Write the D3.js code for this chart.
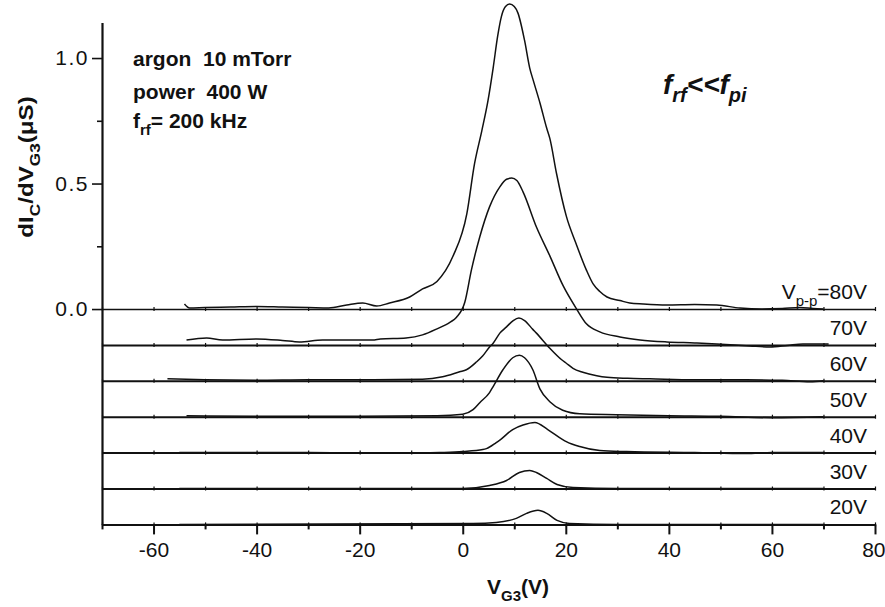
<!DOCTYPE html>
<html><head><meta charset="utf-8">
<script src="https://cdn.jsdelivr.net/npm/d3@7"></script>
<style>
html,body{margin:0;padding:0;background:#fff;}
svg{display:block;}
text{font-family:"Liberation Sans",Arial,Helvetica,sans-serif;fill:#111;}
</style></head>
<body>
<svg id="chart" width="885" height="607"></svg>
<script>
// ---- data (V_G3 in volts, dIc/dV in µS) ----
const seriesNames = ["80V","70V","60V","50V","40V","30V","20V"];
const offsets = [0, -0.143, -0.286, -0.429, -0.572, -0.715, -0.858];

const vpp80 = [[-54,0.02],[-53,0.004],[-50,0.006],[-45,0.008],[-40,0.01],[-35,0.008],[-30,0.006],[-26,0.004],[-22.5,0.016],[-19.4,0.024],[-16.7,0.012],[-14.2,0.024],[-10.3,0.048],[-7.8,0.08],[-5,0.11],[-1.9,0.21],[0.8,0.38],[2.3,0.58],[3.7,0.71],[4.9,0.83],[5.9,0.96],[6.8,1.09],[7.5,1.165],[8.3,1.205],[9.1,1.215],[10,1.205],[10.7,1.18],[12,1.07],[13,0.96],[13.7,0.91],[15,0.82],[16.3,0.72],[16.9,0.68],[18.2,0.54],[20.1,0.37],[22,0.26],[24,0.155],[25.3,0.1],[26.6,0.07],[28,0.048],[30.5,0.034],[32.4,0.024],[35,0.02],[39.6,0.016],[45,0.018],[49.3,0.016],[53.8,0.004],[58,0.0],[62,0.002],[65.4,0.006],[68,0.002],[70,0.0]];
const vpp70 = [[-53.6,0.02],[-49.7,0.028],[-46.6,0.02],[-40,0.024],[-35,0.018],[-31.7,0.012],[-27.2,0.02],[-22,0.02],[-17.5,0.02],[-16,0.024],[-11,0.028],[-7.8,0.04],[-5,0.064],[-2.5,0.09],[-1.2,0.11],[0.4,0.17],[1.7,0.30],[3.3,0.43],[5.2,0.55],[7.2,0.63],[8.5,0.66],[9.5,0.665],[10.5,0.655],[11.7,0.61],[14.3,0.47],[16.9,0.355],[19.5,0.235],[22.1,0.143],[24,0.084],[26.6,0.052],[30.5,0.032],[34.4,0.02],[39.6,0.012],[45,0.008],[49.3,0.004],[55.7,-0.004],[59.6,-0.008],[63,-0.002],[66,0.004],[71,0.004]];
const vpp60 = [[-57.3,0.008],[-50,0.004],[-40,0.002],[-30,0.004],[-20,0.004],[-7.8,0.006],[-3.9,0.016],[-0.6,0.036],[0.7,0.044],[2.7,0.076],[3.9,0.1],[5.2,0.135],[5.9,0.15],[7.2,0.19],[8.5,0.215],[9.8,0.24],[10.9,0.25],[12,0.24],[13.6,0.205],[14.3,0.19],[16.9,0.13],[19.2,0.084],[20.1,0.07],[21.4,0.05],[23.3,0.034],[26,0.02],[28,0.014],[32,0.01],[36.3,0.008],[45,0.004],[55,0.004],[62,0.002],[67.4,-0.004],[70,0.0]];
const vpp50 = [[-53.6,0.004],[-40,0.002],[-20,0.002],[-5,0.004],[0,0.01],[2,0.028],[3.3,0.056],[5.2,0.096],[5.9,0.12],[7.8,0.187],[9.7,0.235],[11,0.245],[12,0.235],[13.6,0.187],[15,0.11],[16.9,0.06],[19.4,0.026],[22.7,0.012],[29.8,0.008],[40,0.004],[50,0.002],[60,-0.004],[70,0.0]];
const vpp40 = [[-55,0],[-30,0],[-12,-0.003],[-8,-0.002],[-4.5,0],[0,0.004],[3.9,0.012],[4.6,0.016],[6.5,0.04],[7.2,0.05],[9.7,0.092],[11.7,0.11],[14,0.12],[16.5,0.092],[19.4,0.052],[20.1,0.044],[22.7,0.024],[26.6,0.008],[31.8,0.004],[45,0],[55,-0.004],[60,0],[70,0]];
const vpp30 = [[-55,0],[0,0],[5.2,0.012],[8.5,0.032],[11,0.064],[13,0.072],[14.3,0.064],[16.3,0.04],[18.3,0.016],[21.4,0.004],[30,0],[70,0]];
const vpp20 = [[-55,0],[2,0.004],[6.5,0.008],[10.4,0.024],[12.4,0.044],[14.6,0.056],[16.3,0.044],[18.3,0.016],[20.7,0.004],[30,0],[70,0]];
const seriesData = [vpp80, vpp70, vpp60, vpp50, vpp40, vpp30, vpp20];

const xMajorTicks = [-60,-40,-20,0,20,40,60,80];
const xMinorTicks = [-70,-50,-30,-10,10,30,50,70];
const yMajorTicks = [0.0,0.5,1.0];
const yMinorTicks = [0.25,0.75];

// ---- layout ----
const svg = d3.select("#chart");
const x = d3.scaleLinear().domain([-70,80]).range([102,875]);
const y = d3.scaleLinear().domain([-0.858,1.142]).range([524.4,22.4]);
const ink = "#111";

// baselines with small ticks
seriesData.forEach((d,i)=>{
  const g = svg.append("g").attr("transform",`translate(0,${y(offsets[i])})`);
  const ax = d3.axisBottom(x).tickValues(d3.range(-70,81,10)).tickSize(0).tickSizeOuter(0).tickFormat("");
  g.call(ax);
  g.select(".domain").attr("stroke",ink).attr("stroke-width",i===0?1.6:2);
  g.selectAll(".tick").append("line").attr("y1",-2).attr("y2",2).attr("stroke",ink).attr("stroke-width",1.2);
});

// curves
const line = d3.line().x(d=>x(d[0])).y(d=>d[1]).curve(d3.curveMonotoneX);
seriesData.forEach((d,i)=>{
  svg.append("path")
    .attr("d", line(d.map(p=>[p[0], y(p[1]+offsets[i])])))
    .attr("fill","none").attr("stroke",ink).attr("stroke-width",1.5).attr("stroke-linejoin","round");
});

// x axis
const gx = svg.append("g").attr("transform",`translate(0,${y(offsets[6])})`);
gx.call(d3.axisBottom(x).tickValues(xMajorTicks).tickSize(10).tickSizeOuter(0).tickPadding(8).tickFormat(d=>String(d)));
gx.select(".domain").attr("stroke",ink).attr("stroke-width",2);
gx.selectAll(".tick line").attr("stroke",ink).attr("stroke-width",2);
gx.selectAll(".tick text").attr("font-size",21).attr("fill",ink).attr("font-family","Liberation Sans, Arial");
gx.selectAll(".tick text").filter(d=>d===80).attr("text-anchor","end").attr("dx",10);
const gxm = svg.append("g").attr("transform",`translate(0,${y(offsets[6])})`);
gxm.call(d3.axisBottom(x).tickValues(xMinorTicks).tickSize(5).tickFormat(""));
gxm.select(".domain").remove();
gxm.selectAll(".tick line").attr("stroke",ink).attr("stroke-width",2);

// y axis
const gy = svg.append("g").attr("transform",`translate(${x(-70)},0)`);
gy.call(d3.axisLeft(y).tickValues(yMajorTicks).tickSize(10).tickSizeOuter(0).tickPadding(3).tickFormat(d3.format(".1f")));
gy.select(".domain").attr("stroke",ink).attr("stroke-width",2.2);
gy.selectAll(".tick line").attr("stroke",ink).attr("stroke-width",1.6);
gy.selectAll(".tick text").attr("font-size",21).attr("fill",ink).attr("letter-spacing","1.5px").attr("font-family","Liberation Sans, Arial");
const gym = svg.append("g").attr("transform",`translate(${x(-70)},0)`);
gym.call(d3.axisLeft(y).tickValues(yMinorTicks).tickSize(5).tickFormat(""));
gym.select(".domain").remove();
gym.selectAll(".tick line").attr("stroke",ink).attr("stroke-width",1.6);

// series labels
seriesNames.forEach((n,i)=>{
  const t = svg.append("text").attr("x",x(80)-8).attr("y",y(offsets[i])-10)
    .attr("text-anchor","end").attr("font-size",21);
  if(i===0){
    t.append("tspan").text("V");
    t.append("tspan").attr("font-size",15).attr("dy",7).text("p-p");
    t.append("tspan").attr("dy",-7).text("="+n);
  } else t.text(n);
});

// annotations
const ann = svg.append("g").attr("font-weight","bold").attr("font-size",21);
ann.append("text").attr("x",133).attr("y",66).attr("xml:space","preserve").text("argon  10 mTorr");
ann.append("text").attr("x",133).attr("y",99).attr("xml:space","preserve").text("power  400 W");
const fr = ann.append("text").attr("x",133).attr("y",128);
fr.append("tspan").text("f");
fr.append("tspan").attr("font-size",15).attr("dy",7).text("rf");
fr.append("tspan").attr("dy",-7).text("= 200 kHz");

const ff = svg.append("text").attr("x",663).attr("y",94).attr("font-weight","bold").attr("font-style","italic").attr("font-size",28);
ff.append("tspan").text("f");
ff.append("tspan").attr("font-size",20).attr("dy",8).text("rf");
ff.append("tspan").attr("dy",-8).text("<<f");
ff.append("tspan").attr("font-size",20).attr("dy",8).text("pi");

// axis titles
const xl = svg.append("text").attr("x",518).attr("y",594).attr("text-anchor","middle").attr("font-weight","bold").attr("font-size",21);
xl.append("tspan").text("V");
xl.append("tspan").attr("font-size",15).attr("dy",7).text("G3");
xl.append("tspan").attr("dy",-7).text("(V)");

const yl = svg.append("text").attr("transform","translate(33,167) rotate(-90) scale(1.15,1)").attr("text-anchor","middle").attr("font-weight","bold").attr("font-size",21);
yl.append("tspan").text("dI");
yl.append("tspan").attr("font-size",15).attr("dy",7).text("C");
yl.append("tspan").attr("dy",-7).text("/dV");
yl.append("tspan").attr("font-size",15).attr("dy",7).text("G3");
yl.append("tspan").attr("dy",-7).text("(\u03BCS)");
</script>
</body></html>
